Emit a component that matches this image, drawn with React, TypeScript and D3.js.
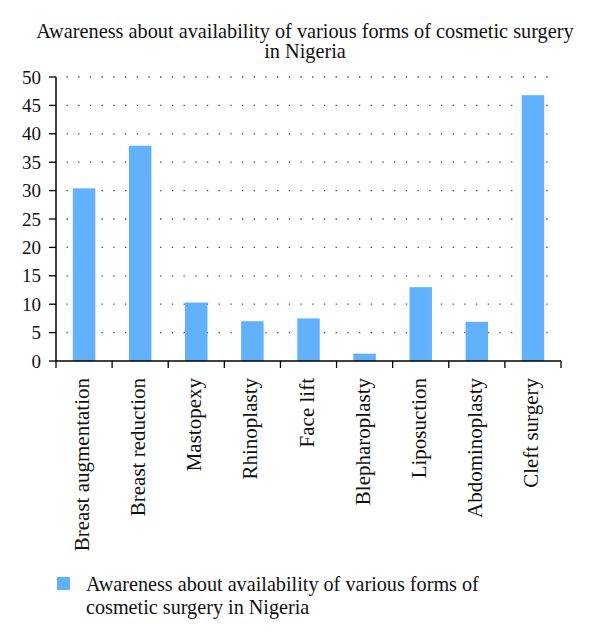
import React from "react";
import * as d3 from "d3";

const categories = [
  "Breast augmentation",
  "Breast reduction",
  "Mastopexy",
  "Rhinoplasty",
  "Face lift",
  "Blepharoplasty",
  "Liposuction",
  "Abdominoplasty",
  "Cleft surgery",
];
const values = [30.4, 37.9, 10.3, 7.0, 7.5, 1.3, 13.0, 6.9, 46.8];
const yTicks = [0, 5, 10, 15, 20, 25, 30, 35, 40, 45, 50];
const titleLines = [
  "Awareness about availability of various forms of cosmetic surgery",
  "in Nigeria",
];
const legendLines = [
  "Awareness about availability of various forms of",
  "cosmetic surgery in Nigeria",
];

const W = 600;
const H = 644;
const left = 56;
const right = 561;
const top = 77;
const bottom = 361;
const font = "'Liberation Serif', 'DejaVu Serif', serif";
const barColor = "#62b1fd";

export default function App() {
  const xb = d3.scaleBand<string>().domain(categories).range([left, right]);
  const y = d3.scaleLinear().domain([0, 50]).range([bottom, top]);
  const bounds = [...categories.map((c) => xb(c)!), right];

  return (
    <svg width={W} height={H} style={{ position: "absolute", left: 0, top: 0, background: "#fff" }}>
      {titleLines.map((t, i) => (
        <text key={i} x={305} y={38 + i * 20} textAnchor="middle" fontFamily={font} fontSize={20.3} fill="#111">
          {t}
        </text>
      ))}
      {yTicks.filter((v) => v > 0).map((v) => (
        <line key={v} x1={left} x2={right - 3} y1={y(v)} y2={y(v)} stroke="#444" strokeWidth={1.3} strokeDasharray="1.3 10.4" strokeDashoffset={-10.5} />
      ))}
      {categories.map((c, i) => {
        const bw = 22.5;
        const cx = xb(c)! + xb.bandwidth() / 2;
        return <rect key={c} x={cx - bw / 2} y={y(values[i])} width={bw} height={bottom - y(values[i])} fill={barColor} />;
      })}
      <line x1={left} x2={left} y1={top} y2={bottom} stroke="#000" strokeWidth={1.5} />
      <line x1={left} x2={right} y1={bottom} y2={bottom} stroke="#000" strokeWidth={1.5} />
      {yTicks.map((v) => (
        <g key={v}>
          <line x1={left - 7} x2={left} y1={y(v)} y2={y(v)} stroke="#000" strokeWidth={1.3} />
          <text x={41} y={y(v)} dy="0.35em" textAnchor="end" fontFamily={font} fontSize={19} fill="#111">
            {v}
          </text>
        </g>
      ))}
      {bounds.map((b, i) => (
        <line key={i} x1={b} x2={b} y1={bottom} y2={bottom + 7} stroke="#000" strokeWidth={1.3} />
      ))}
      {categories.map((c) => {
        const cx = xb(c)! + xb.bandwidth() / 2;
        return (
          <text key={c} transform={`translate(${cx + 5},${378}) rotate(-90)`} textAnchor="end" fontFamily={font} fontSize={21} fill="#111">
            {c}
          </text>
        );
      })}
      <rect x={57} y={577} width={13} height={13} fill={barColor} />
      {legendLines.map((t, i) => (
        <text key={i} x={86} y={591 + i * 23} fontFamily={font} fontSize={20.2} fill="#111">
          {t}
        </text>
      ))}
    </svg>
  );
}
